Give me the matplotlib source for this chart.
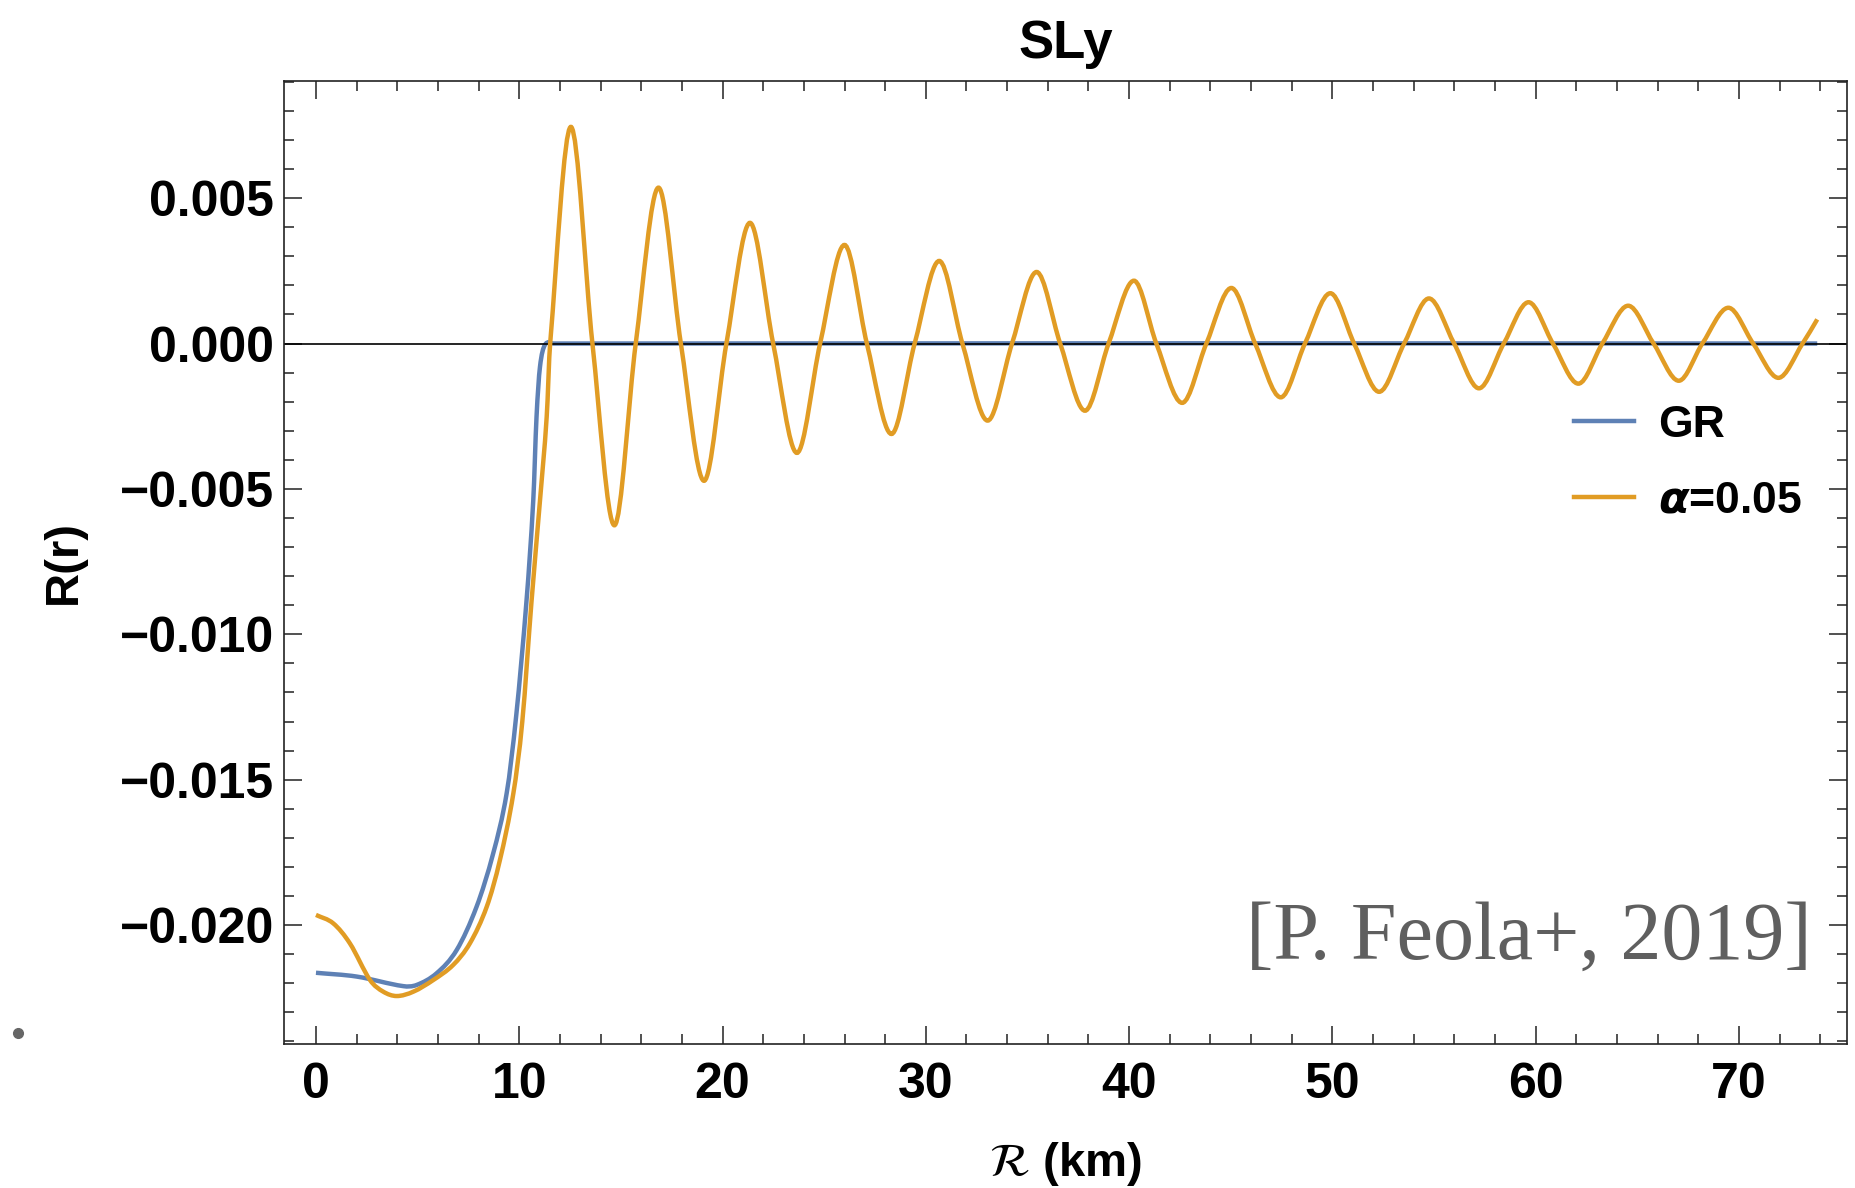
import numpy as np
import matplotlib
matplotlib.use("Agg")
import matplotlib.pyplot as plt
from matplotlib.path import Path
from matplotlib.patches import PathPatch
from matplotlib.lines import Line2D

plt.rcParams['font.family'] = ['Liberation Sans', 'DejaVu Sans']

# valores (r em km, R(r))
gr_r = [0.00, 2.00, 4.30, 4.95, 5.93, 6.92, 7.90, 8.72, 9.38, 9.85,
        10.36, 10.69, 10.85, 11.02, 11.26, 11.67, 73.85]
gr_R = [-0.02164, -0.02177, -0.02210, -0.02206, -0.02166, -0.02086, -0.01937,
        -0.01753, -0.01547, -0.01280, -0.00882, -0.00538, -0.00252, -0.00080,
        -0.00005, 0.0, 0.0]

alfa_r = [0.00, 0.85, 1.67, 2.66, 3.31, 3.97, 4.79, 5.77, 6.75, 7.57, 8.40,
          9.05, 9.71, 10.15, 10.60, 11.02, 11.35, 11.52,
          12.54, 13.60, 14.68, 15.73, 16.85, 17.95, 19.09, 20.19, 21.35,
          22.49, 23.66, 24.80, 26.00, 27.10, 28.31, 29.45, 30.66, 31.80,
          33.04, 34.24, 35.45, 36.61, 37.83, 38.99, 40.24, 41.34, 42.61,
          43.80, 45.03, 46.20, 47.46, 48.65, 49.90, 51.07, 52.30, 53.53,
          54.75, 55.99, 57.21, 58.43, 59.65, 60.85, 62.10, 63.28, 64.55,
          65.80, 67.04, 68.20, 69.48, 70.70, 71.94, 73.13, 73.85]
alfa_R = [-0.01965, -0.01994, -0.02063, -0.02189, -0.02229, -0.02244, -0.02229,
          -0.02189, -0.02137, -0.02063, -0.01937, -0.01776, -0.01547, -0.01300,
          -0.00890, -0.00540, -0.00252, 0.0,
          0.00745, 0.0, -0.00625, 0.0, 0.00536, 0.0, -0.00472, 0.0, 0.00415,
          0.0, -0.00376, 0.0, 0.00339, 0.0, -0.00311, 0.0, 0.00284, 0.0,
          -0.00265, 0.0, 0.00246, 0.0, -0.00231, 0.0, 0.00216, 0.0, -0.00204,
          0.0, 0.00191, 0.0, -0.00185, 0.0, 0.00173, 0.0, -0.00166, 0.0,
          0.00155, 0.0, -0.00154, 0.0, 0.00142, 0.0, -0.00138, 0.0, 0.00130,
          0.0, -0.00128, 0.0, 0.00123, 0.0, -0.00118, 0.0, 0.00083]

xticks = [0, 10, 20, 30, 40, 50, 60, 70]
yticks = [-0.020, -0.015, -0.010, -0.005, 0.000, 0.005]

azul = '#5E81B5'
laranja = '#E19C24'


def curva_suave(xs, ys):
    # caminho de Bezier passando pelos pontos lidos (tangentes de Catmull-Rom)
    xs = np.asarray(xs, float)
    ys = np.asarray(ys, float)
    m = np.empty_like(ys)
    m[1:-1] = (ys[2:] - ys[:-2]) / (xs[2:] - xs[:-2])
    m[0] = (ys[1] - ys[0]) / (xs[1] - xs[0])
    m[-1] = (ys[-1] - ys[-2]) / (xs[-1] - xs[-2])
    verts = [(xs[0], ys[0])]
    codes = [Path.MOVETO]
    for i in range(len(xs) - 1):
        h = xs[i + 1] - xs[i]
        verts += [(xs[i] + h / 3, ys[i] + m[i] * h / 3),
                  (xs[i + 1] - h / 3, ys[i + 1] - m[i + 1] * h / 3),
                  (xs[i + 1], ys[i + 1])]
        codes += [Path.CURVE4] * 3
    return Path(verts, codes)


fig = plt.figure(figsize=(18.56, 11.88), dpi=100)
ax = fig.add_axes([0.1530, 0.1212, 0.8421, 0.8110])

ax.add_patch(PathPatch(curva_suave(gr_r, gr_R), fill=False, ec=azul, lw=3.2,
                       capstyle='butt', zorder=2))
ax.axhline(0, color='black', lw=1.2, zorder=2.5)
ax.add_patch(PathPatch(curva_suave(alfa_r, alfa_R), fill=False, ec=laranja, lw=3.2,
                       capstyle='butt', zorder=3))

ax.set_xlim(-1.574, 75.31)
ax.set_ylim(-0.02409, 0.009044)

ax.set_xticks(xticks)
ax.set_xticks(np.arange(-0, 76, 2), minor=True)
ax.set_yticks(yticks)
ax.set_yticks(np.arange(-24, 10) * 0.001, minor=True)
ax.set_xticklabels([str(v) for v in xticks])
ax.set_yticklabels([f"{v:.3f}".replace('-', '\u2212') for v in yticks])

ax.tick_params(which='both', direction='in', top=True, right=True,
               color='#222222', width=1.1, labelsize=36)
ax.tick_params(which='major', length=13)
ax.tick_params(which='minor', length=7.5)
ax.tick_params(axis='x', pad=13)
ax.tick_params(axis='y', pad=7)
for lab in ax.get_xticklabels() + ax.get_yticklabels():
    lab.set_fontweight('bold')
for s in ax.spines.values():
    s.set_linewidth(1.2)
    s.set_color('#222222')

ax.set_title('SLy', fontsize=38, fontweight='bold', pad=16)
xlab = ax.set_xlabel(r'$\mathcal{R}$ (km)', fontsize=34, fontweight='bold')
xlab.set_math_fontfamily('stix')
ax.xaxis.set_label_coords(0.5, -0.100)
ax.set_ylabel('R(r)', fontsize=34, fontweight='bold')
ax.yaxis.set_label_coords(-0.127, 0.5)

handles = [Line2D([], [], color=azul, lw=3.2), Line2D([], [], color=laranja, lw=3.2)]
leg = ax.legend(handles, ['GR', r'$\boldsymbol{\alpha}$=0.05'], loc='upper left',
                bbox_to_anchor=(0.7995, 0.705), frameon=False, handlelength=1.35,
                handletextpad=0.55, labelspacing=0.79,
                prop={'size': 32, 'weight': 'bold'})

ax.text(0.9776, 0.0882, '[P. Feola+, 2019]', transform=ax.transAxes,
        ha='right', va='baseline', fontsize=59, color='#5f5f5f',
        family='Liberation Serif')

fig.add_artist(Line2D([18 / 1856], [1 - 1033 / 1188], marker='o', ms=7,
                      color='#666666', transform=fig.transFigure))

fig.savefig('out.png', dpi=100)
